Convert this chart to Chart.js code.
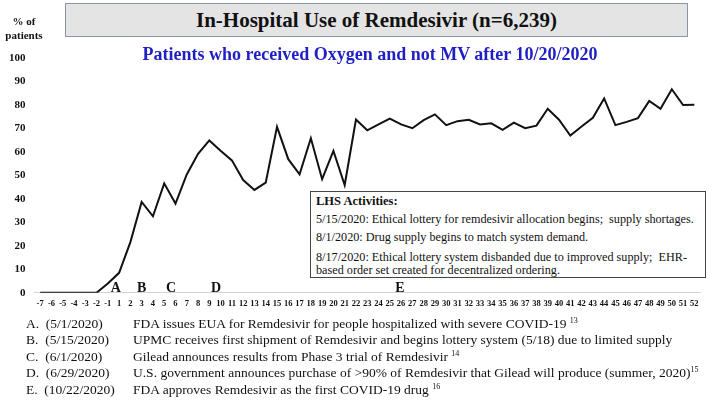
<!DOCTYPE html>
<html>
<head>
<meta charset="utf-8">
<script src="https://cdn.jsdelivr.net/npm/chart.js@4.4.1/dist/chart.umd.min.js"></script>
<style>
  html, body { margin: 0; padding: 0; background: #fff; }
  #wrap { position: relative; width: 709px; height: 406px; overflow: hidden; font-family: "Liberation Serif", "Times New Roman", serif; color: #111; }
  #chartBox { position: absolute; left: 0; top: 0; width: 709px; height: 319px; }
  .abs { position: absolute; white-space: nowrap; }
  #titleBox { left: 65px; top: 3px; width: 621px; height: 32px; background: #e4e4e4; border: 1px solid #8796a8;
              font-weight: bold; font-size: 21px; line-height: 33px; text-align: center; }
  #subtitle { left: 0; width: 740px; top: 43px; text-align: center; font-weight: bold; font-size: 18px; color: #1f1fc4; line-height: 22px; }
  #ylab { left: 4px; top: 14px; width: 40px; text-align: center; font-weight: bold; font-size: 11px; line-height: 14px; }
  #lhs { left: 310px; top: 191px; width: 394px; height: 85px; background: #fff; border: 1px solid #444; }
  #lhs div { position: absolute; left: 5px; font-size: 12.2px; line-height: 14px; white-space: nowrap; }
  #notes div { position: absolute; font-size: 13.5px; line-height: 16px; white-space: nowrap; }
  sup { font-size: 8px; vertical-align: 5px; line-height: 0; }
</style>
</head>
<body>
<div id="wrap">
  <div id="chartBox"><canvas id="remdesivirChart"></canvas></div>
  <div id="titleBox" class="abs">In-Hospital Use of Remdesivir (n=6,239)</div>
  <div id="subtitle" class="abs">Patients who received Oxygen and not MV after 10/20/2020</div>
  <div id="ylab" class="abs">% of<br>patients</div>
  <div id="lhs" class="abs">
    <div style="top:2px;font-weight:bold;font-size:12.5px;">LHS Activities:</div>
    <div style="top:20px;">5/15/2020:&nbsp;Ethical lottery for remdesivir allocation begins;&nbsp; supply shortages.</div>
    <div style="top:38px;">8/1/2020:&nbsp;Drug supply begins to match system demand.</div>
    <div style="top:58px;">8/17/2020:&nbsp;Ethical lottery system disbanded due to improved supply;&nbsp; EHR-</div>
    <div style="top:71px;">based order set created for decentralized ordering.</div>
  </div>
  <div id="notes"></div>
</div>
<script>
// weeks relative to the EUA
const weeks = ['-7','-6','-5','-4','-3','-2','-1','1','2','3','4','5','6','7','8','9','10',
  '11','12','13','14','15','16','17','18','19','20','21','22','23','24','25','26','27','28','29','30',
  '31','32','33','34','35','36','37','38','39','40','41','42','43','44','45','46','47','48','49','50',
  '51','52'];
const pctPatients = [0, 0, 0, 0, 0, 0, 4, 8.5, 21.6, 38.7, 32.6, 46.6, 38, 50.4, 59.2, 64.9, 60.5,
  56.4, 48, 43.8, 46.9, 70.7, 56.9, 50.5, 65.8, 48.4, 60.4, 45.9, 73.8, 69.2, 71.7, 74.2, 71.7, 70.1, 73.5, 76, 71.4,
  73.1, 73.7, 71.7, 72.2, 69.4, 72.5, 70.1, 71.2, 78.4, 73.7, 67, 70.8, 74.5, 82.8, 71.4, 72.8, 74.4, 81.7, 78.4, 86.7,
  80, 80.1];
const yTicks = [0, 10, 20, 30, 40, 50, 60, 70, 80, 90, 100];

// event markers on the x axis (position given as category index)
const eventLetters = ['A', 'B', 'C', 'D', 'E'];
const eventPos = [6.7, 9, 11.6, 15.6, 31.9];
const eventDates = ['(5/1/2020)', '(5/15/2020)', '(6/1/2020)', '(6/29/2020)', '(10/22/2020)'];
const eventText = [
  'FDA issues EUA for Remdesivir for people hospitalized with severe COVID-19 <sup>13</sup>',
  'UPMC receives first shipment of Remdesivir and begins lottery system (5/18) due to limited supply',
  'Gilead announces results from Phase 3 trial of Remdesivir <sup>14</sup>',
  'U.S. government announces purchase of &gt;90% of Remdesivir that Gilead will produce (summer, 2020)<sup>15</sup>',
  'FDA approves Remdesivir as the first COVID-19 drug <sup>16</sup>'
];

const notes = document.getElementById('notes');
eventLetters.forEach((l, i) => {
  const top = 316 + i * 16.4;
  notes.innerHTML += '<div style="left:26px;top:' + top + 'px">' + l + '.&nbsp; ' + eventDates[i] + '</div>' +
    '<div style="left:133px;top:' + top + 'px">' + eventText[i] + '</div>';
});

const eventLabels = {
  id: 'eventLabels',
  afterDatasetsDraw(chart) {
    const ctx = chart.ctx;
    const x = chart.scales.x;
    const y0 = chart.scales.y.getPixelForValue(0);
    ctx.save();
    ctx.font = 'bold 14px "Liberation Serif", serif';
    ctx.fillStyle = '#111';
    ctx.textAlign = 'center';
    ctx.textBaseline = 'alphabetic';
    eventLetters.forEach((l, i) => {
      ctx.fillText(l, x.getPixelForValue(eventPos[i]), y0 - 1);
    });
    ctx.restore();
  }
};

const ctx = document.getElementById('remdesivirChart').getContext('2d');
new Chart(ctx, {
  type: 'line',
  data: {
    labels: weeks,
    datasets: [{
      data: pctPatients,
      borderColor: '#111',
      borderWidth: 2,
      pointRadius: 0,
      tension: 0,
      fill: false
    }]
  },
  options: {
    responsive: true,
    maintainAspectRatio: false,
    animation: false,
    layout: { padding: { top: 58, left: 0, right: 9, bottom: 4 } },
    plugins: { legend: { display: false }, tooltip: { enabled: false } },
    scales: {
      x: {
        offset: true,
        grid: { display: false, drawTicks: false },
        border: { display: true, color: '#d4d4d4', width: 1 },
        ticks: {
          autoSkip: false, maxRotation: 0, minRotation: 0, padding: 6,
          color: '#111', font: { family: 'Liberation Serif', size: 8.5, weight: 'bold' }
        }
      },
      y: {
        min: 0, max: 100,
        afterBuildTicks: s => { s.ticks = yTicks.map(v => ({ value: v })); },
        grid: { display: false, drawTicks: false },
        border: { display: false },
        ticks: { padding: 9, color: '#111', font: { family: 'Liberation Serif', size: 11, weight: 'bold' } }
      }
    }
  },
  plugins: [eventLabels]
});
</script>
</body>
</html>
